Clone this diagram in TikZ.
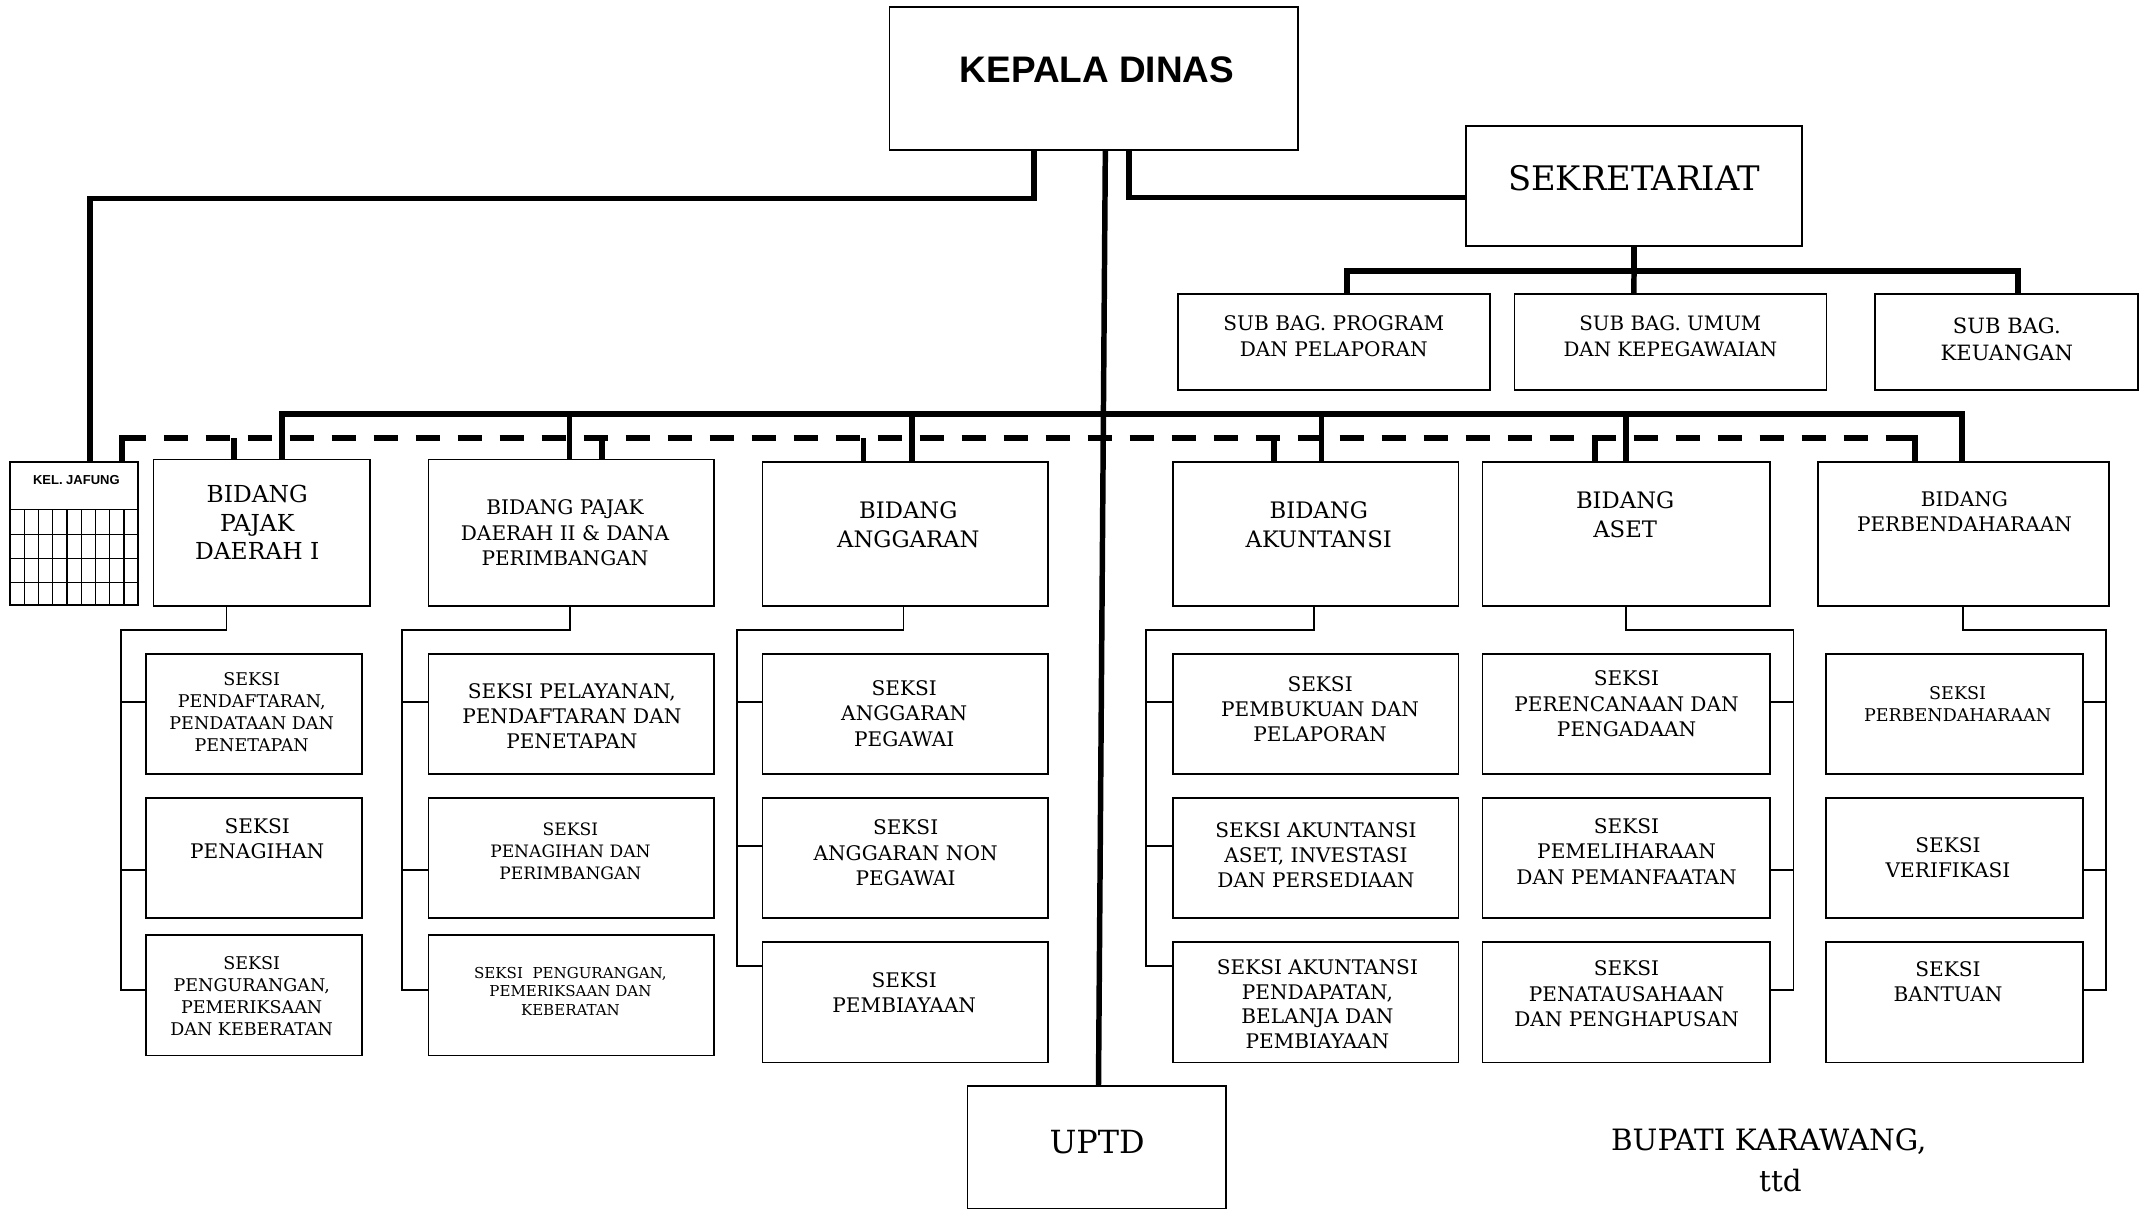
\documentclass[tikz,border=0pt]{standalone}
\usepackage{fontspec}
\setmainfont{DejaVu Serif}
\setsansfont{Liberation Sans}

\tikzset{
  bingkai/.style={draw, line width=1.2pt, inner sep=0pt},
  garis/.style={line width=4pt},
  putus/.style={line width=4.4pt, dash pattern=on 17.8pt off 12.9pt},
  tipis/.style={line width=1.3pt},
}
% kotak{nama}{x1}{y1}{x2}{y2}
\newcommand{\kotak}[5]{\node[bingkai, minimum width={(#4-#2)*1pt}, minimum height={(#5-#3)*1pt}] (#1) at ({(#2+#4)/2},{(#3+#5)/2}) {};}
% teks{nama}{x}{y}{ukuran}{spasi}{isi}
\newcommand{\teks}[6]{\node[align=center, inner sep=0pt, font=\fontsize{#4}{#5}\selectfont] (#1) at (#2,#3) {#6};}

\begin{document}
\begin{tikzpicture}[x=1pt, y=-1pt]
            \fill[white] (0,0) rectangle (1568,884.5);
            \useasboundingbox (0,0) rectangle (1568,884.5);

            % pimpinan
            \kotak{kadis}{650.2}{5.2}{948.8}{109.8}
            \node[font=\fontsize{27}{32}\selectfont\sffamily\bfseries] (kadist) at (802,51.3) {KEPALA DINAS};
            \kotak{sekre}{1071.7}{91.9}{1317.3}{179.8}
            \teks{sekret}{1194.5}{130.4}{24.7}{30}{SEKRETARIAT}
            \kotak{sb1}{861}{214.8}{1089.2}{285.3}
            \kotak{sb2}{1107}{214.8}{1335.2}{285.3}
            \kotak{sb3}{1370.4}{214.8}{1563}{285.3}
            \teks{sb1t}{975}{245.5}{14.7}{19}{SUB BAG. PROGRAM\\DAN PELAPORAN}
            \teks{sb2t}{1221}{245.5}{14.5}{19}{SUB BAG. UMUM\\DAN KEPEGAWAIAN}
            \teks{sb3t}{1467}{248}{15.4}{20}{SUB BAG.\\KEUANGAN}
            \kotak{uptd}{707.2}{793.8}{896.2}{883.5}
            \teks{uptdt}{802}{835.1}{23.3}{28}{UPTD}
            \teks{bupati}{1293}{848.5}{21.5}{30}{BUPATI KARAWANG,\\\hspace*{17pt}ttd}

            % kelompok jabatan fungsional
            \kotak{jafung}{7.3}{337.7}{101.1}{442.3}
            \node[font=\fontsize{9.5}{11}\selectfont\sffamily\bfseries] (jafungt) at (55.8,351) {KEL. JAFUNG};
            \foreach \yy in {372.3,390.6,408.1,425.7}
                \draw[line width=1pt] (7.3,\yy) -- (101.1,\yy);
            \foreach \i in {1,...,8}
                \draw[line width=1pt] ({7.3+\i*10.42},372.3) -- ({7.3+\i*10.42},442.3);

            % bidang
            \kotak{b1}{112.3}{335.9}{270.3}{442.8}
            \kotak{b2}{313.3}{335.9}{522}{442.8}
            \kotak{b3}{557.4}{337.6}{766.1}{442.8}
            \kotak{b4}{857.4}{337.6}{1066.2}{442.8}
            \kotak{b5}{1083.6}{337.6}{1293.9}{442.8}
            \kotak{b6}{1329.1}{337.6}{1541.5}{442.8}
            \teks{b1t}{188}{382}{17.1}{21}{BIDANG\\PAJAK\\DAERAH I}
            \teks{b2t}{413}{389.5}{14.7}{18.5}{BIDANG PAJAK\\DAERAH II \& DANA\\PERIMBANGAN}
            \teks{b3t}{664}{383.5}{16.6}{21}{BIDANG\\ANGGARAN}
            \teks{b4t}{964}{383.5}{16.6}{21}{BIDANG\\AKUNTANSI}
            \teks{b5t}{1188}{376.5}{16.6}{21}{BIDANG\\ASET}
            \teks{b6t}{1436}{374}{14.7}{18}{BIDANG\\PERBENDAHARAAN}

            % seksi
            \foreach \c/\xa/\xb/\yc in {1/106.7/264.6/683.7, 2/313.3/522/683.7, 3/557.4/766.1/688.8,
                4/857.4/1066.2/688.8, 5/1083.6/1293.9/688.8, 6/1334.7/1522.6/688.8}{
                \kotak{s\c1}{\xa}{477.9}{\xb}{565.7}
                \kotak{s\c2}{\xa}{583.4}{\xb}{671.2}
                \kotak{s\c3}{\xa}{\yc}{\xb}{\yc+87.9}
            }
            \teks{s11t}{184}{520.3}{12.8}{16.1}{SEKSI\\PENDAFTARAN,\\PENDATAAN DAN\\PENETAPAN}
            \teks{s12t}{188}{613}{14.7}{18}{SEKSI\\PENAGIHAN}
            \teks{s13t}{184}{728}{12.8}{16}{SEKSI\\PENGURANGAN,\\PEMERIKSAAN\\DAN KEBERATAN}
            \teks{s21t}{418}{523.5}{14.7}{18.5}{SEKSI PELAYANAN,\\PENDAFTARAN DAN\\PENETAPAN}
            \teks{s22t}{417}{622}{12.5}{16}{SEKSI\\PENAGIHAN DAN\\PERIMBANGAN}
            \teks{s23t}{417}{724.5}{11}{13.5}{SEKSI\ \ PENGURANGAN,\\PEMERIKSAAN DAN\\KEBERATAN}
            \teks{s31t}{661}{521.5}{14.7}{18.5}{SEKSI\\ANGGARAN\\PEGAWAI}
            \teks{s32t}{662}{623.5}{14.7}{18.5}{SEKSI\\ANGGARAN NON\\PEGAWAI}
            \teks{s33t}{661}{725.5}{14.7}{18.5}{SEKSI\\PEMBIAYAAN}
            \teks{s41t}{965}{518.5}{14.7}{18.5}{SEKSI\\PEMBUKUAN DAN\\PELAPORAN}
            \teks{s42t}{962}{625}{14.7}{18.5}{SEKSI AKUNTANSI\\ASET, INVESTASI\\DAN PERSEDIAAN}
            \teks{s43t}{963}{734}{14.7}{18}{SEKSI AKUNTANSI\\PENDAPATAN,\\BELANJA DAN\\PEMBIAYAAN}
            \teks{s51t}{1189}{514.5}{14.7}{18.5}{SEKSI\\PERENCANAAN DAN\\PENGADAAN}
            \teks{s52t}{1189}{622.5}{14.7}{18.5}{SEKSI\\PEMELIHARAAN\\DAN PEMANFAATAN}
            \teks{s53t}{1189}{726.5}{14.7}{18.5}{SEKSI\\PENATAUSAHAAN\\DAN PENGHAPUSAN}
            \teks{s61t}{1431}{515}{12.8}{16}{SEKSI\\PERBENDAHARAAN}
            \teks{s62t}{1424}{627}{14.7}{18.5}{SEKSI\\VERIFIKASI}
            \teks{s63t}{1424}{717.5}{14.7}{18.5}{SEKSI\\BANTUAN}

            % garis komando
            \draw[garis] ([xshift=-43.5pt]kadis.south) -- ++(0,34.7) -| ([xshift=11.5pt]jafung.north);
            \draw[garis] ([xshift=25.7pt]kadis.south) |- ([yshift=-8.65pt]sekre.west);
            \draw[garis] ([xshift=8.5pt]kadis.south) -- ([xshift=1.3pt]uptd.north);
            \draw[garis] (sekre.south) -- ++(0,17.6) coordinate (sbus);
            \draw[garis] ([xshift=9.4pt]sb1.north) |- (sbus) -| ([xshift=8.3pt]sb3.north);
            \draw[garis] (sbus) -- ([xshift=-26.8pt]sb2.north);

            \foreach \b/\s/\d in {b1/14.9/-20.5, b2/-1.2/22.35, b3/4.9/-30.45, b4/4.3/-30.3, b5/0/-23.05, b6/-1.1/-35.8}
                \path ([xshift=\s pt]\b.north) coordinate (\b s) ([xshift=\d pt]\b.north) coordinate (\b d);
            \coordinate (bus) at (0,302.6);
            \coordinate (dash) at (0,320);
            \path ([xshift=34.8pt]jafung.north) coordinate (jd);
            \draw[garis] (b1s) -- (b1s |- bus) -- (b6s |- bus) -- (b6s);
            \foreach \b in {b2,b3,b4,b5}
                \draw[garis] (\b s |- bus) -- (\b s);

            % garis koordinasi
            \draw[putus] (jd |- dash) -- (b6d |- dash);
            \draw[line width=4.4pt] (jd) -- (jd |- dash) -- ++(17.8,0);
            \draw[line width=4.4pt] (b6d) -- (b6d |- dash) -- ++(-21,0);
            \foreach \b in {b1,b2,b3,b4,b5}
                \draw[line width=4.2pt] (\b d |- dash) -- (\b d);

            % bidang ke seksi
            \foreach \c/\sx/\bx/\sd/\ta/\tb/\tc in {1/-25.7/88.7/west/8.7/-8.7/4.2, 2/-1.25/294/west/8.7/-8.7/4.2,
                3/-1.25/538.5/west/8.7/8.7/26.4, 4/-1.3/838/west/8.7/8.7/26.4,
                5/0/1311/east/8.7/-8.7/9.0, 6/-0.6/1539.4/east/8.7/-8.7/9.0}{
                \coordinate (v\c) at (\bx,460.5);
                \draw[tipis] ([xshift=\sx pt]b\c.south) |- (v\c) |- ([yshift=\tc pt]s\c3.\sd);
                \draw[tipis] (v\c) |- ([yshift=\ta pt]s\c1.\sd);
                \draw[tipis] (v\c) |- ([yshift=\tb pt]s\c2.\sd);
            }
        \end{tikzpicture}
\end{document}
